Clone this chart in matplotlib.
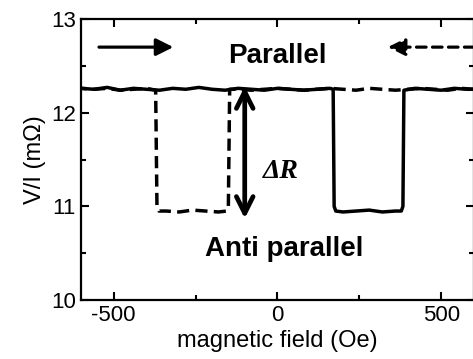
import matplotlib.pyplot as plt

plt.rcParams['font.family'] = ['Liberation Sans', 'DejaVu Sans']
plt.rcParams['axes.unicode_minus'] = False

# up sweep (solid), field in Oe, V/I in mOhm
field_up = [-600, -560, -520, -480, -440, -400, -360, -320, -280, -240, -200, -160,
            -120, -80, -40, 0, 40, 80, 120, 160, 170, 173, 178, 200, 240, 280,
            320, 360, 378, 383, 386, 420, 460, 500, 540, 580, 600]
vi_up = [12.26, 12.25, 12.27, 12.24, 12.26, 12.25, 12.24, 12.26, 12.25, 12.27, 12.25, 12.24,
         12.26, 12.25, 12.24, 12.26, 12.25, 12.24, 12.25, 12.26, 12.25, 11.00, 10.95, 10.94, 10.95, 10.96,
         10.94, 10.95, 10.95, 11.00, 12.24, 12.26, 12.25, 12.24, 12.26, 12.25, 12.25]

# down sweep (dashed)
field_down = [600, 560, 520, 480, 440, 400, 360, 320, 280, 240, 200, 160, 120, 80,
              40, 0, -40, -80, -120, -146, -150, -155, -180, -220, -260, -300,
              -340, -362, -368, -372, -400, -440, -480, -520, -560, -600]
vi_down = [12.25, 12.26, 12.24, 12.25, 12.26, 12.25, 12.24, 12.25, 12.26, 12.24, 12.25, 12.26, 12.25, 12.24,
           12.25, 12.26, 12.25, 12.24, 12.25, 12.25, 11.00, 10.95, 10.94, 10.95, 10.96, 10.94,
           10.95, 10.95, 11.00, 12.24, 12.26, 12.25, 12.24, 12.26, 12.25, 12.26]

fig = plt.figure(figsize=(4.73, 3.59), dpi=100)
ax = fig.add_axes([0.1712, 0.1643, 0.8309, 0.7827])

ax.plot(field_up, vi_up, color='black', lw=2.5, solid_joinstyle='round')
ax.plot(field_down, vi_down, color='black', lw=2.5, linestyle=(0, (3.5, 1.8)))

ax.set_xlim(-600, 600)
ax.set_ylim(10, 13)
ax.set_xticks([-500, 0, 500])
ax.set_xticks([-250, 250], minor=True)
ax.set_yticks([10, 11, 12, 13])
ax.set_yticks([10.5, 11.5, 12.5], minor=True)
ax.tick_params(which='both', direction='in', top=True, right=True, width=1.5, labelsize=16)
ax.tick_params(which='major', length=6)
ax.tick_params(which='minor', length=3.5)
for s in ax.spines.values():
    s.set_linewidth(1.6)

ax.set_xlabel('magnetic field (Oe)', fontsize=17, labelpad=3)
ax.set_ylabel('V/I (m\u03a9)', fontsize=17, labelpad=4)

ax.text(0, 12.6, 'Parallel', fontsize=20, fontweight='bold', ha='center', va='center')
ax.text(20, 10.54, 'Anti parallel', fontsize=20, fontweight='bold', ha='center', va='center')
ax.text(10, 11.37, '\u0394R', fontsize=20, fontstyle='italic', fontweight='bold',
        family=['Liberation Serif', 'DejaVu Serif'], ha='center', va='center')

# delta R double arrow
ax.annotate('', xy=(-100, 10.87), xytext=(-100, 12.28),
            arrowprops=dict(arrowstyle='<->', color='black', lw=3.4, mutation_scale=30,
                            shrinkA=0, shrinkB=0))

# sweep direction arrows
ax.annotate('', xy=(-318, 12.7), xytext=(-545, 12.7),
            arrowprops=dict(arrowstyle='-|>', color='black', lw=2.3, mutation_scale=26,
                            shrinkA=0, shrinkB=0))
ax.annotate('', xy=(337, 12.7), xytext=(600, 12.7),
            arrowprops=dict(arrowstyle='-|>', color='black', lw=2.3, mutation_scale=26,
                            shrinkA=0, shrinkB=0, linestyle=(0, (3, 2))))

fig.savefig('out.png', dpi=100)
